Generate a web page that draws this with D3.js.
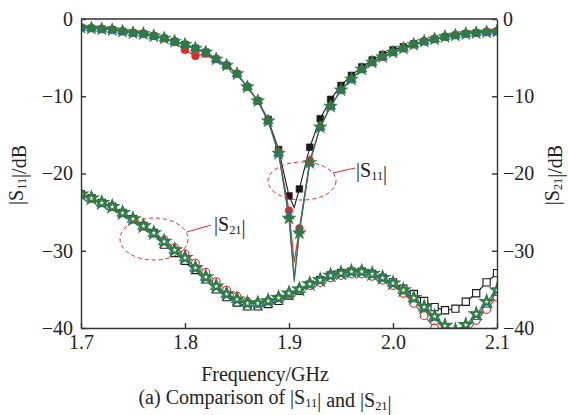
<!DOCTYPE html>
<html>
<head>
<meta charset="utf-8">
<script src="https://cdn.jsdelivr.net/npm/d3@7"></script>
<style>
  body { margin: 0; background: #fff; }
  svg { display: block; font-family: "Liberation Serif", "Times New Roman", serif; }
</style>
</head>
<body>
<svg id="chart"></svg>
<script>
// Frequency samples (GHz), one marker per sample
const freqs = d3.range(0, 41).map(i => +(1.70 + i * 0.01).toFixed(2));
const xTicks = [1.7, 1.8, 1.9, 2.0, 2.1];
const yTicks = [0, -10, -20, -30, -40];

// |S11| (dB)
const s11Black = [-1.1,-1.2,-1.3,-1.4,-1.6,-1.8,-1.9,-2.2,-2.5,-2.9,
  -3.3,-3.8,-4.3,-5.2,-6.0,-7.1,-8.8,-10.6,-13.0,-16.9,
  -22.9,-22.0,-16.6,-12.9,-10.4,-8.6,-7.3,-6.2,-5.3,-4.6,
  -4.0,-3.6,-3.2,-2.9,-2.6,-2.3,-2.1,-1.9,-1.8,-1.7,-1.6];
const s11Red = [-1.1,-1.2,-1.3,-1.4,-1.6,-1.8,-1.9,-2.2,-2.5,-3.0,
  -4.0,-4.8,-4.5,-5.2,-6.0,-7.1,-8.8,-10.6,-13.2,-17.2,
  -24.8,-27.1,-18.3,-14.0,-11.3,-9.2,-7.8,-6.5,-5.6,-4.9,
  -4.3,-3.8,-3.3,-2.9,-2.6,-2.3,-2.1,-1.9,-1.8,-1.7,-1.6];
const s11Blue = [-1.1,-1.2,-1.3,-1.4,-1.6,-1.8,-1.9,-2.2,-2.5,-2.9,
  -3.3,-3.8,-4.3,-5.2,-6.0,-7.1,-8.8,-10.6,-13.2,-17.4,
  -25.5,-27.4,-18.6,-14.0,-11.3,-9.2,-7.8,-6.5,-5.6,-4.9,
  -4.3,-3.8,-3.3,-2.9,-2.6,-2.3,-2.1,-1.9,-1.8,-1.7,-1.6];
const s11Green = [-1.1,-1.2,-1.3,-1.4,-1.6,-1.8,-1.9,-2.2,-2.5,-2.9,
  -3.3,-3.8,-4.3,-5.2,-6.0,-7.1,-8.8,-10.6,-13.2,-17.4,
  -25.8,-27.7,-18.6,-14.0,-11.3,-9.2,-7.8,-6.5,-5.6,-4.9,
  -4.3,-3.8,-3.3,-2.9,-2.6,-2.3,-2.1,-1.9,-1.8,-1.7,-1.6];
// resonance bottom of each |S11| line (no marker there)
const dipFreq = 1.905;
const s11Dips = [-24.4, -31.5, -33.5, -34.0];

// |S21| (dB)
const s21Black = [-22.7,-23.2,-23.8,-24.3,-25.1,-25.9,-26.8,-27.7,-29.2,-30.3,
  -31.3,-32.5,-33.7,-35.0,-36.0,-36.7,-37.2,-37.2,-36.9,-36.5,
  -35.8,-35.2,-34.4,-33.8,-33.2,-32.9,-32.7,-32.7,-33.0,-33.5,
  -34.1,-34.9,-35.6,-36.5,-37.3,-37.7,-37.5,-36.6,-35.5,-34.1,-32.9];
const s21Red = [-22.7,-23.2,-23.8,-24.3,-25.1,-25.9,-26.8,-27.7,-28.6,-29.6,
  -30.4,-31.6,-32.8,-34.0,-35.1,-35.9,-36.6,-36.8,-36.5,-36.1,
  -35.6,-35.1,-34.5,-34.1,-33.5,-33.2,-33.0,-33.0,-33.3,-33.8,
  -34.5,-35.5,-36.8,-38.4,-40.0,-41.0,-41.5,-41.0,-39.0,-37.6,-36.0];
const s21Blue = [-22.7,-23.2,-23.8,-24.3,-25.1,-25.9,-26.8,-27.7,-28.8,-29.9,
  -30.9,-32.2,-33.4,-34.6,-35.6,-36.3,-36.8,-36.8,-36.5,-36.1,
  -35.5,-35.0,-34.3,-33.8,-33.2,-32.9,-32.7,-32.7,-33.0,-33.5,
  -34.2,-35.1,-36.2,-37.4,-38.6,-39.9,-40.5,-39.9,-38.5,-36.9,-35.4];
const s21Green = [-22.7,-23.2,-23.8,-24.3,-25.1,-25.9,-26.8,-27.7,-28.8,-29.9,
  -30.9,-32.2,-33.4,-34.6,-35.6,-36.3,-36.8,-36.8,-36.5,-36.1,
  -35.5,-35.0,-34.3,-33.8,-33.2,-32.9,-32.7,-32.7,-33.0,-33.5,
  -34.2,-35.1,-36.1,-37.3,-38.5,-39.7,-40.3,-39.6,-38.2,-36.6,-35.1];

const seriesColors = ["#1a1a1a", "#e8262a", "#2a63c4", "#2e7d3e"];
const seriesSymbols = [d3.symbolSquare, d3.symbolCircle, d3.symbolTriangle, d3.symbolStar];

// Chart dimensions
const width = 568;
const height = 415;
const marginLeft = 81;
const marginRight = 71;
const marginTop = 19;
const marginBottom = 87;
const fontSize = 20;
const serif = "Liberation Serif, Times New Roman, serif";

const xScale = d3.scaleLinear()
    .domain([1.7, 2.1])
    .range([marginLeft, width - marginRight]);

const yScale = d3.scaleLinear()
    .domain([-40, 0])
    .range([height - marginBottom, marginTop]);

const svg = d3.select("#chart")
    .attr("width", width)
    .attr("height", height);

svg.append("defs").append("clipPath")
    .attr("id", "plotClip")
  .append("rect")
    .attr("x", marginLeft)
    .attr("y", marginTop)
    .attr("width", width - marginLeft - marginRight)
    .attr("height", height - marginTop - marginBottom);

const line = d3.line()
    .x(d => xScale(d[0]))
    .y(d => yScale(d[1]));

const plot = svg.append("g").attr("clip-path", "url(#plotClip)");

function drawSeries(values, i, dip, open) {
  let pts = freqs.map((f, j) => [f, values[j]]);
  let linePts = pts.slice();
  if (dip !== null) {
    linePts.push([dipFreq, dip]);
    linePts.sort((a, b) => a[0] - b[0]);
  }
  const g = plot.append("g");
  g.append("path")
    .attr("d", line(linePts))
    .attr("fill", "none")
    .attr("stroke", seriesColors[i])
    .attr("stroke-width", 1.1);

  const sizes = open ? [52, 48, 50, 60] : [44, 46, 44, 56];
  const sym = d3.symbol().type(seriesSymbols[i]).size(sizes[i]);
  g.selectAll("path.marker")
    .data(pts)
    .join("path")
    .attr("class", "marker")
    .attr("transform", d => `translate(${xScale(d[0])},${yScale(d[1])})`)
    .attr("d", sym)
    .attr("fill", open && i < 3 ? "#fff" : seriesColors[i])
    .attr("stroke", seriesColors[i])
    .attr("stroke-width", open ? 1.1 : 0.6);

  if (open && i === 3) {
    const inner = d3.symbol().type(d3.symbolStar).size(7);
    g.selectAll("path.inner")
      .data(pts)
      .join("path")
      .attr("class", "inner")
      .attr("transform", d => `translate(${xScale(d[0])},${yScale(d[1])})`)
      .attr("d", inner)
      .attr("fill", "#fff");
  }
}

[s21Black, s21Red, s21Blue, s21Green].forEach((v, i) => drawSeries(v, i, null, true));
[s11Black, s11Red, s11Blue, s11Green].forEach((v, i) => drawSeries(v, i, s11Dips[i], false));

// Axes, ticks pointing inward
const axisColor = "#333";
const xAxis = svg.append("g")
    .attr("transform", `translate(0,${height - marginBottom})`)
    .call(d3.axisBottom(xScale).tickValues(xTicks).tickFormat(d3.format(".1f"))
      .tickSizeInner(-5).tickSizeOuter(0).tickPadding(7));
const yAxisLeft = svg.append("g")
    .attr("transform", `translate(${marginLeft},0)`)
    .call(d3.axisLeft(yScale).tickValues(yTicks).tickSizeInner(-5).tickSizeOuter(0).tickPadding(8));
const yAxisRight = svg.append("g")
    .attr("transform", `translate(${width - marginRight},0)`)
    .call(d3.axisRight(yScale).tickValues(yTicks).tickSizeInner(-5).tickSizeOuter(0).tickPadding(6));

[xAxis, yAxisLeft, yAxisRight].forEach(a => {
  a.selectAll("path.domain").attr("stroke", axisColor).attr("stroke-width", 1.4);
  a.selectAll(".tick line").attr("stroke", axisColor).attr("stroke-width", 1.4);
  a.selectAll("text")
    .attr("font-family", serif)
    .attr("font-size", fontSize)
    .attr("fill", "#222");
});

svg.append("line")
    .attr("x1", marginLeft).attr("x2", width - marginRight)
    .attr("y1", marginTop).attr("y2", marginTop)
    .attr("stroke", axisColor).attr("stroke-width", 1.4);

// Text with subscripts
function subText(sel, parts) {
  parts.forEach(p => {
    if (p.sub) {
      sel.append("tspan").attr("font-size", fontSize * 0.62).attr("dy", 3).text(p.t);
      sel.append("tspan").attr("dy", -3).text("");
    } else {
      sel.append("tspan").text(p.t);
    }
  });
}

const textG = svg.append("g")
    .attr("font-family", serif)
    .attr("font-size", fontSize)
    .attr("fill", "#222");

textG.append("text")
    .attr("x", 265).attr("y", 381)
    .attr("text-anchor", "middle")
    .text("Frequency/GHz");

subText(textG.append("text").attr("x", 265).attr("y", 404).attr("text-anchor", "middle"),
  [{t: "(a) Comparison of |S"}, {t: "11", sub: true}, {t: "| and |S"}, {t: "21", sub: true}, {t: "|"}]);

subText(textG.append("text")
    .attr("transform", "translate(23,175) rotate(-90)")
    .attr("text-anchor", "middle"),
  [{t: "|S"}, {t: "11", sub: true}, {t: "|/dB"}]);

subText(textG.append("text")
    .attr("transform", "translate(559,175) rotate(-90)")
    .attr("text-anchor", "middle"),
  [{t: "|S"}, {t: "21", sub: true}, {t: "|/dB"}]);

// Annotations
const annRed = "#e8262a";
svg.append("ellipse")
    .attr("cx", 302).attr("cy", 181).attr("rx", 34).attr("ry", 19)
    .attr("fill", "none").attr("stroke", annRed).attr("stroke-width", 1)
    .attr("stroke-dasharray", "4,3");
svg.append("line")
    .attr("x1", 333).attr("y1", 173).attr("x2", 355).attr("y2", 168)
    .attr("stroke", annRed).attr("stroke-width", 1);
subText(textG.append("text").attr("x", 356).attr("y", 177),
  [{t: "|S"}, {t: "11", sub: true}, {t: "|"}]);

svg.append("ellipse")
    .attr("cx", 154).attr("cy", 239).attr("rx", 34).attr("ry", 21)
    .attr("fill", "none").attr("stroke", annRed).attr("stroke-width", 1)
    .attr("stroke-dasharray", "4,3");
svg.append("line")
    .attr("x1", 187).attr("y1", 232).attr("x2", 211).attr("y2", 225)
    .attr("stroke", annRed).attr("stroke-width", 1);
subText(textG.append("text").attr("x", 214).attr("y", 231),
  [{t: "|S"}, {t: "21", sub: true}, {t: "|"}]);
</script>
</body>
</html>
